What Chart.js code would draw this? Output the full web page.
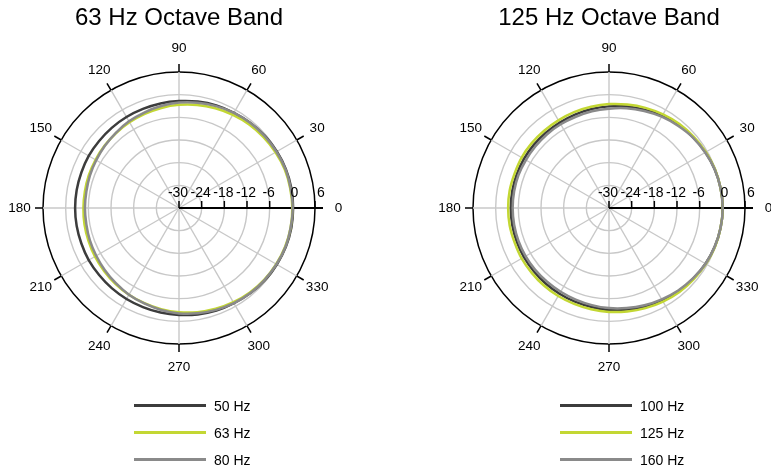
<!DOCTYPE html>
<html>
<head>
<meta charset="utf-8">
<script src="https://cdn.jsdelivr.net/npm/chart.js@4.4.1/dist/chart.umd.min.js"></script>
<style>
html,body{margin:0;padding:0;width:771px;height:470px;overflow:hidden;background:#fff;}
body{position:relative;font-family:'Liberation Sans',Arial,sans-serif;}
canvas{position:absolute;top:0;}
.lgline{position:absolute;height:3px;width:72px;}
.lgtext{position:absolute;font-size:14px;line-height:16px;color:#000;white-space:nowrap;}
</style>
</head>
<body>
<canvas id="c1" width="358" height="470" style="left:0px"></canvas>
<canvas id="c2" width="382" height="470" style="left:418px"></canvas>
<div id="leg1"></div>
<div id="leg2"></div>
<script>
// ---------- data ----------
const angleDeg = [0,10,20,30,40,50,60,70,80,90,100,110,120,130,140,150,160,170,
                  180,190,200,210,220,230,240,250,260,270,280,290,300,310,320,330,340,350];
const angleTickLabels = [0,30,60,90,120,150,180,210,240,270,300,330];
const dbTicks = [-30,-24,-18,-12,-6,0,6];

const titleLeft = '63 Hz Octave Band';
const titleRight = '125 Hz Octave Band';
const namesLeft = ['50 Hz','63 Hz','80 Hz'];
const namesRight = ['100 Hz','125 Hz','160 Hz'];

// level in dB at each angle of angleDeg
const hz50 = [0.2,0.2,0.1,-0.1,-0.3,-0.6,-0.9,-1.1,-1.4,-1.7,-1.9,-2.1,-2.2,-2.3,-2.4,-2.4,-2.5,-2.5,
              -2.5,-2.5,-2.5,-2.4,-2.4,-2.3,-2.2,-2.1,-1.9,-1.7,-1.4,-1.1,-0.9,-0.6,-0.3,-0.1,0.1,0.2];
const hz63 = [0.0,-0.1,-0.2,-0.5,-0.8,-1.1,-1.5,-1.9,-2.3,-2.7,-3.1,-3.5,-3.8,-4.1,-4.3,-4.5,-4.6,-4.7,
              -4.7,-4.6,-4.5,-4.3,-4.1,-3.8,-3.5,-3.2,-2.8,-2.4,-2.0,-1.6,-1.2,-0.8,-0.5,-0.3,-0.1,0.0];
const hz80 = [0.1,0.0,0.0,-0.2,-0.4,-0.6,-0.9,-1.3,-1.7,-2.1,-2.6,-3.1,-3.5,-4.0,-4.4,-4.7,-4.9,-5.1,
              -5.1,-5.1,-4.9,-4.7,-4.4,-4.0,-3.5,-3.1,-2.6,-2.1,-1.7,-1.3,-0.9,-0.6,-0.4,-0.2,0.0,0.0];
const hz100 = [0.1,0.0,-0.2,-0.5,-0.9,-1.3,-1.8,-2.3,-2.7,-3.1,-3.4,-3.7,-3.9,-4.0,-4.0,-4.0,-4.0,-4.0,
               -4.0,-4.0,-4.0,-4.0,-4.0,-3.9,-3.8,-3.6,-3.4,-3.0,-2.7,-2.2,-1.8,-1.3,-0.9,-0.5,-0.2,0.0];
const hz125 = [0.1,0.0,-0.1,-0.4,-0.7,-1.0,-1.4,-1.8,-2.2,-2.5,-2.8,-3.0,-3.2,-3.3,-3.3,-3.3,-3.4,-3.3,
               -3.3,-3.3,-3.4,-3.3,-3.3,-3.2,-3.1,-3.0,-2.8,-2.5,-2.2,-1.8,-1.4,-1.0,-0.7,-0.4,-0.1,0.0];
const hz160 = [0.1,0.0,-0.2,-0.6,-1.0,-1.6,-2.1,-2.7,-3.2,-3.7,-4.0,-4.3,-4.4,-4.5,-4.6,-4.6,-4.5,-4.5,
               -4.5,-4.5,-4.5,-4.5,-4.5,-4.5,-4.4,-4.2,-3.9,-3.5,-3.1,-2.6,-2.1,-1.5,-1.0,-0.5,-0.2,0.0];

// ---------- styling ----------
const FONT = "'Liberation Sans', Arial, sans-serif";
const COLORS = ['#3c3c3c', '#c3d733', '#8a8a8a'];
const GRID = '#c8c8c8';
const N = angleDeg.length;

// Chart.js radar goes clockwise from startAngle; map counter-clockwise angles to indices
function idxForAngle(a) { return ((N - Math.round(a / 10)) % N + N) % N; }
const chartLabels = Array.from({length: N}, (_, i) => String(angleDeg[(N - i) % N]));
function reorder(arr) { return Array.from({length: N}, (_, i) => arr[(N - i) % N]); }

const polarDecor = {
  id: 'polarDecor',
  beforeDatasetsDraw(chart) {
    const s = chart.scales.r;
    const ctx = chart.ctx;
    const cx = s.xCenter, cy = s.yCenter, R = s.drawingArea;
    ctx.save();
    ctx.strokeStyle = '#000';
    ctx.lineWidth = 1.5;
    angleTickLabels.forEach(a => {
      const i = idxForAngle(a);
      const p1 = s.getPointPosition(i, R);
      const p2 = s.getPointPosition(i, R + 8);
      ctx.beginPath(); ctx.moveTo(p1.x, p1.y); ctx.lineTo(p2.x, p2.y); ctx.stroke();
    });
    const end = s.getPointPosition(idxForAngle(0), R + 8);
    ctx.lineWidth = 2;
    ctx.beginPath(); ctx.moveTo(cx, cy); ctx.lineTo(end.x, end.y); ctx.stroke();
    ctx.lineWidth = 1.5;
    dbTicks.forEach(v => {
      const x = cx + s.getDistanceFromCenterForValue(v);
      ctx.beginPath(); ctx.moveTo(x, cy); ctx.lineTo(x, cy - 7); ctx.stroke();
    });
    ctx.restore();
  },
  afterDraw(chart) {
    const s = chart.scales.r;
    const ctx = chart.ctx;
    const cx = s.xCenter, cy = s.yCenter, R = s.drawingArea;
    ctx.save();
    ctx.fillStyle = '#000';
    ctx.font = '14px ' + FONT;
    ctx.textAlign = 'center';
    ctx.textBaseline = 'alphabetic';
    const nudge = {0: 2, 6: 6};
    dbTicks.forEach(v => {
      const x = cx + s.getDistanceFromCenterForValue(v) + (nudge[v] !== undefined ? nudge[v] : -1);
      ctx.fillText(String(v), x, cy - 11);
    });
    ctx.font = '13.5px ' + FONT;
    ctx.textBaseline = 'middle';
    angleTickLabels.forEach(a => {
      const p = s.getPointPosition(idxForAngle(a), R + 23.5);
      ctx.fillText(String(a), p.x, p.y);
    });
    ctx.restore();
  }
};

function makeChart(id, title, names, series, padL, padR) {
  const datasets = series.map((vals, k) => ({
    label: names[k],
    data: reorder(vals),
    borderColor: COLORS[k],
    backgroundColor: 'rgba(0,0,0,0)',
    borderWidth: 2.5,
    pointRadius: 0,
    fill: false,
    tension: 0.3,
    order: 2 - k
  }));
  return new Chart(document.getElementById(id), {
    type: 'radar',
    data: { labels: chartLabels, datasets },
    options: {
      responsive: false,
      animation: false,
      devicePixelRatio: 1,
      events: [],
      layout: { padding: { left: padL, right: padR, top: 0, bottom: 126 } },
      plugins: {
        legend: { display: false },
        tooltip: { enabled: false },
        title: {
          display: true, text: title, color: '#000',
          font: { family: FONT, size: 24, weight: 'normal', lineHeight: 1.2 },
          padding: { top: 4.3, bottom: 38.9 }
        }
      },
      scales: {
        r: {
          min: -30, max: 6, startAngle: 90,
          ticks: { display: false, stepSize: 6 },
          pointLabels: { display: false },
          grid: {
            circular: true,
            color: c => (c.tick && c.tick.value === 6) ? '#000' : GRID,
            lineWidth: c => (c.tick && c.tick.value === 6) ? 1.5 : 1.4
          },
          angleLines: {
            display: true,
            color: c => (c.index % 3 === 0) ? GRID : 'rgba(0,0,0,0)',
            lineWidth: c => (c.index % 3 === 0) ? 1.4 : 0
          }
        }
      }
    },
    plugins: [polarDecor]
  });
}

makeChart('c1', titleLeft, namesLeft, [hz50, hz63, hz80], 43, 43);
makeChart('c2', titleRight, namesRight, [hz100, hz125, hz160], 55, 55);

function buildLegend(id, x0, names) {
  const el = document.getElementById(id);
  names.forEach((n, i) => {
    const y = 405.5 + i * 26.8;
    const ln = document.createElement('div');
    ln.className = 'lgline';
    ln.style.left = x0 + 'px';
    ln.style.top = (y - 1.5) + 'px';
    ln.style.background = COLORS[i];
    el.appendChild(ln);
    const tx = document.createElement('div');
    tx.className = 'lgtext';
    tx.style.left = (x0 + 80) + 'px';
    tx.style.top = (y - 7.5) + 'px';
    tx.textContent = n;
    el.appendChild(tx);
  });
}
buildLegend('leg1', 134, namesLeft);
buildLegend('leg2', 560, namesRight);
</script>
</body>
</html>
